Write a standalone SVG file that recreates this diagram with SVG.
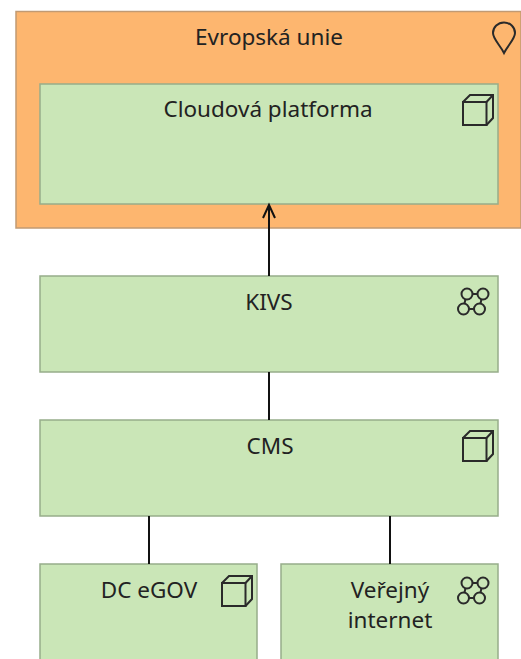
<svg xmlns="http://www.w3.org/2000/svg" width="521" height="659" viewBox="0 0 521 659">
<style>
.g{fill:#cae6b7;stroke:#97ad8a;stroke-width:1.5}
.o{fill:#fdb66f;stroke:#c19a73;stroke-width:1.5}
.t{font-family:"Noto Sans","Open Sans","Liberation Sans",sans-serif;font-size:22.500px;fill:#222;text-anchor:middle}
.i{fill:none;stroke:#2a2a2a;stroke-width:2}
.c{fill:none;stroke:#111;stroke-width:2}
</style>
<defs>
<g id="box" class="i"><rect x="0" y="7" width="23.500" height="23"/><path d="M0 7 L7 0 H30 V23 L23.500 30 M23.500 7 L30 0"/></g>
<g id="net" class="i"><circle cx="9" cy="6" r="5.500"/><circle cx="25" cy="6" r="5.500"/><circle cx="5.500" cy="21" r="5.500"/><circle cx="21.500" cy="21" r="5.500"/><path d="M14.500 6H19.500M7.500 11L6.500 15.500M23.500 11L22.500 15.500M11 21H16"/></g>
</defs>
<g id="evropska-unie"><rect class="o" x="16" y="11.500" width="505" height="216.500"/><text class="t" x="269" y="45">Evropská unie</text><path class="i" d="M504 53 C500 45 493 39 493 33 A11 10.500 0 0 1 515 33 C515 39 508 45 504 53Z"/></g>
<g id="cloudova-platforma"><rect class="g" x="40" y="84" width="458" height="120"/><text class="t" x="268" y="117">Cloudová platforma</text><use href="#box" x="463" y="95"/></g>
<g id="kivs"><rect class="g" x="40" y="276" width="458" height="96"/><text class="t" x="269" y="310">KIVS</text><use href="#net" x="458" y="288"/></g>
<g id="cms"><rect class="g" x="40" y="420" width="458" height="96"/><text class="t" x="270" y="454">CMS</text><use href="#box" x="463" y="431"/></g>
<g id="dc-egov"><rect class="g" x="40" y="564" width="217" height="100"/><text class="t" x="149" y="598">DC eGOV</text><use href="#box" x="222" y="576"/></g>
<g id="verejny-internet"><rect class="g" x="281" y="564" width="217" height="100"/><text class="t" x="390" y="598">Veřejný</text><text class="t" x="390" y="628">internet</text><use href="#net" x="458" y="577"/></g>
<g id="connectors">
<path class="c" d="M269 276V205M263 218L269 205L275 218"/>
<path class="c" d="M269 372V420"/>
<path class="c" d="M149 516V564"/>
<path class="c" d="M390 516V564"/>
</g>
</svg>
